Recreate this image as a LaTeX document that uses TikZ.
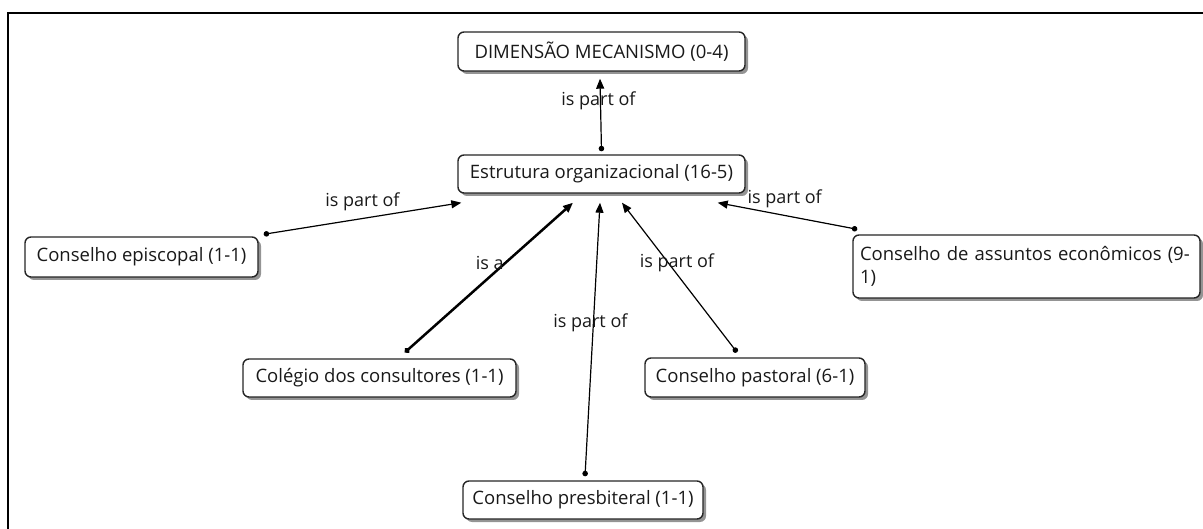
\documentclass[tikz,border=0pt]{standalone}
\usepackage{fontspec}
\setmainfont{Open Sans}
\usetikzlibrary{shadows,arrows.meta}
\begin{document}
\begin{tikzpicture}[x=1pt,y=-1pt,
  concept/.style={draw=black!85, line width=1.4pt, rounded corners=6pt, fill=white,
    inner sep=0pt, font=\fontsize{18.5}{23}\selectfont, text=black!90,
    drop shadow={shadow xshift=3pt, shadow yshift=-3pt, fill=black!70, opacity=0.6}},
  link/.style={line width=1.2pt, {Circle[length=5.5pt]}-{Triangle[length=10pt,width=8pt]}},
  strong/.style={line width=2.5pt},
  linklabel/.style={font=\fontsize{18}{22}\selectfont, inner sep=0pt, text=black!90}
]
\useasboundingbox (0,0) rectangle (1203,529);
% outer frame
\draw[line width=2pt] (8,529) -- (8,13) -- (1203,13);

% concepts
\node[concept, minimum width=287pt, minimum height=39pt] (dim) at (601.5,51.5) {DIMENSÃO MECANISMO (0-4)};
\node[concept, minimum width=287pt, minimum height=38pt] (estr) at (601.5,174) {Estrutura organizacional (16-5)};
\node[concept, minimum width=233pt, minimum height=40pt] (epis) at (141.5,257) {Conselho episcopal (1-1)};
\node[concept, minimum width=347pt, minimum height=63pt, text width=333pt, align=left] (econ) at (1026.5,266.5) {Conselho de assuntos econômicos (9-\\1)};
\node[concept, minimum width=273pt, minimum height=38pt] (coleg) at (379.5,378) {Colégio dos consultores (1-1)};
\node[concept, minimum width=220pt, minimum height=39pt] (past) at (755,377.5) {Conselho pastoral (6-1)};
\node[concept, minimum width=240pt, minimum height=38pt] (presb) at (583,500) {Conselho presbiteral (1-1)};

% links
\draw[link] ([yshift=3pt]estr.north) -- node[linklabel, pos=0.70, xshift=-2pt] (l1) {is part of} ([xshift=-1.5pt,yshift=-7pt]dim.south);
\draw[link] ([xshift=5pt,yshift=2pt]epis.north east) -- node[linklabel, pos=0.5, yshift=17pt] (l2) {is part of} ([xshift=4pt,yshift=-9pt]estr.south west);
\draw[link] ([xshift=5pt,yshift=5pt]econ.north west) -- node[linklabel, pos=0.52, yshift=17pt] (l3) {is part of} ([xshift=-28pt,yshift=-9pt]estr.south east);
\draw[link, strong] ([xshift=25.5pt,yshift=6pt]coleg.north) -- node[linklabel, pos=0.6, xshift=-16pt] (l4) {is a} ([xshift=-28.5pt,yshift=-9pt]estr.south);
\draw[link] ([xshift=2pt,yshift=4pt]presb.north) -- node[linklabel, pos=0.56, xshift=-3pt] (l5) {is part of} ([xshift=-1.5pt,yshift=-9pt]estr.south);
\draw[link] ([xshift=-18pt,yshift=5pt]past.north) -- node[linklabel, pos=0.6, xshift=9pt] (l6) {is part of} ([xshift=20.5pt,yshift=-9pt]estr.south);
\end{tikzpicture}
\end{document}
